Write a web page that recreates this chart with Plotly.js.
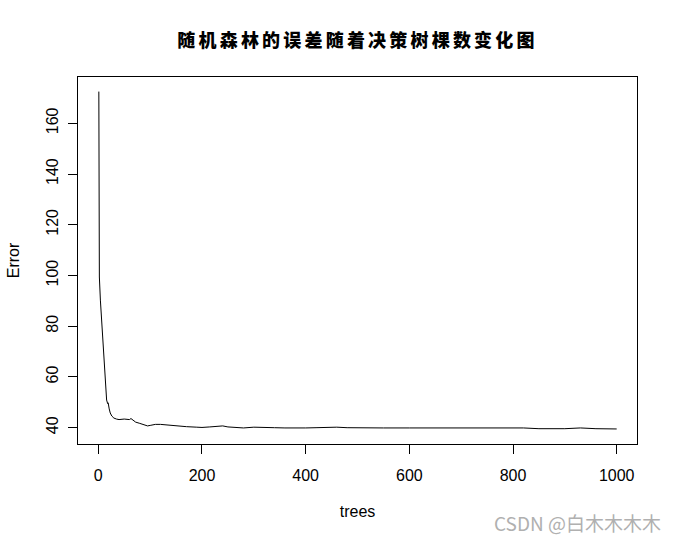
<!DOCTYPE html>
<html>
<head>
<meta charset="utf-8">
<script src="https://cdn.plot.ly/plotly-3.0.1.min.js"></script>
<style>
  html, body { margin: 0; padding: 0; background: #fff; }
  #chart { width: 677px; height: 542px; }
  .gtitle { letter-spacing: 3.2px; }
</style>
</head>
<body>
<div id="chart"></div>
<script>
const trees = [1, 2, 4, 6, 8, 10, 12, 14, 15, 16, 18, 19, 21, 23, 26, 30, 35, 40,
  50, 60, 63, 66, 72, 80, 90, 95, 100, 110, 120, 130, 150, 170, 190, 200, 215,
  230, 240, 250, 265, 280, 300, 320, 340, 360, 380, 400, 420, 440, 460, 480,
  500, 550, 600, 650, 700, 750, 760, 780, 800, 820, 850, 880, 900, 930, 960, 1000];
// OOB error values
const errorVals = [172.5, 99.4, 90.3, 83.6, 76.5, 69.4, 62.7, 56.8, 53.7, 50.9, 49.5, 49.8, 47.4, 45.8, 44.6, 43.8, 43.4, 43.2,
  43.4, 43.2, 43.6, 43.0, 42.2, 41.7, 40.9, 40.7, 40.9, 41.3, 41.3, 41.1, 40.7, 40.4, 40.2, 40.1, 40.3,
  40.55, 40.7, 40.3, 40.1, 39.9, 40.2, 40.2, 40.0, 39.9, 39.8, 39.9, 40.0, 40.1, 40.2, 40.0,
  39.9, 39.9, 39.9, 39.9, 39.9, 39.9, 39.7, 39.7, 39.7, 39.9, 39.6, 39.6, 39.6, 39.9, 39.6, 39.5];

const xTicks = [0, 200, 400, 600, 800, 1000];
const yTicks = [40, 60, 80, 100, 120, 140, 160];

const titleText = "随机森林的误差随着决策树棵数变化图";
const xLabel = "trees";
const yLabel = "Error";
const watermark = "CSDN @白木木木木";

const trace = {
  x: trees,
  y: errorVals,
  type: "scatter",
  mode: "lines",
  line: { color: "#000", width: 1, shape: "linear" },
  hoverinfo: "skip"
};

const axisFont = { family: "Liberation Sans, Arial, sans-serif", size: 16, color: "#000" };

const layout = {
  width: 677,
  height: 542,
  paper_bgcolor: "#fff",
  plot_bgcolor: "#fff",
  margin: { l: 78, r: 40, t: 77, b: 98 },
  showlegend: false,
  title: {
    text: titleText,
    font: { family: "Noto Sans CJK SC, sans-serif", size: 18, color: "#000", weight: 900 },
    x: 0.5, xref: "paper", xanchor: "center",
    y: 1 - 41 / 542, yref: "container", yanchor: "middle"
  },
  xaxis: {
    range: [-39.2, 1039.2],
    tickvals: xTicks,
    ticktext: xTicks.map(String),
    ticks: "outside", ticklen: 9, tickwidth: 1, tickcolor: "#000",
    ticklabelstandoff: 8,
    showline: true, mirror: true, linecolor: "#000", linewidth: 1,
    showgrid: false, zeroline: false,
    tickfont: axisFont,
    title: { text: xLabel, font: axisFont, standoff: 22 }
  },
  yaxis: {
    range: [33.57, 178.25],
    tickvals: yTicks,
    ticktext: yTicks.map(String),
    tickangle: -90,
    ticks: "outside", ticklen: 9, tickwidth: 1, tickcolor: "#000",
    ticklabelstandoff: 4,
    showline: true, mirror: true, linecolor: "#000", linewidth: 1,
    showgrid: false, zeroline: false,
    tickfont: axisFont,
    title: { text: yLabel, font: axisFont, standoff: 19 }
  },
  annotations: [{
    text: watermark,
    xref: "paper", yref: "paper",
    x: 1 + 26 / 559, y: -78 / 367,
    xanchor: "right", yanchor: "middle",
    showarrow: false,
    font: { family: "Noto Sans CJK SC, sans-serif", size: 19, color: "#b0b0b0" }
  }]
};

Plotly.newPlot("chart", [trace], layout, { staticPlot: true, displayModeBar: false });
</script>
</body>
</html>
